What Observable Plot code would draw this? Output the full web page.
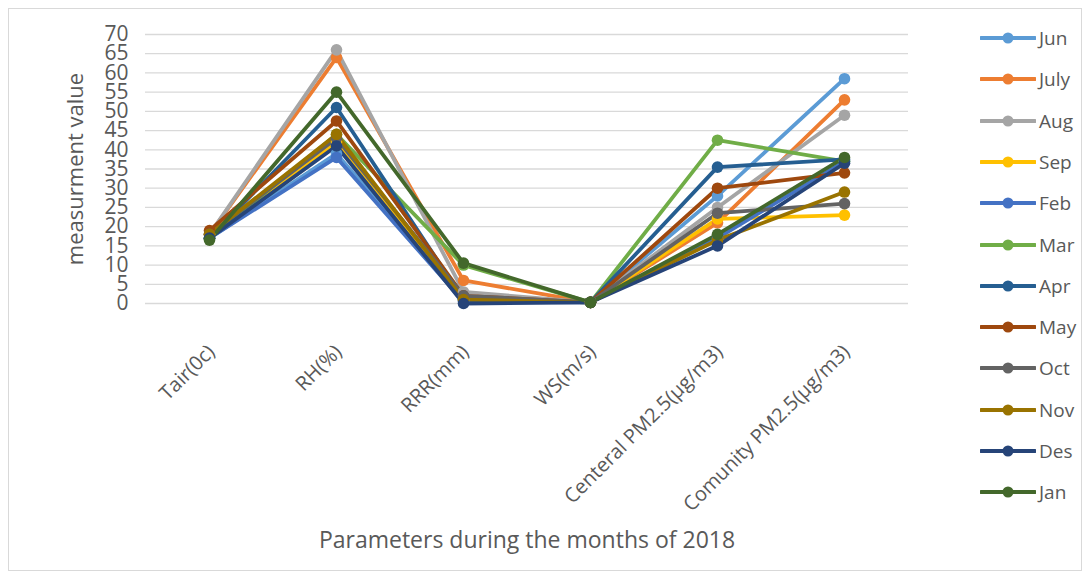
<!DOCTYPE html>
<html>
<head>
<meta charset="utf-8">
<script src="https://cdn.jsdelivr.net/npm/d3@7"></script>
<script src="https://cdn.jsdelivr.net/npm/@observablehq/plot@0.6"></script>
<style>
  body { margin: 0; background: #fff; font-family: "Open Sans", sans-serif; }
  #wrap { position: relative; width: 1089px; height: 579px; overflow: hidden; }
  #frame { position: absolute; left: 8px; top: 8px; width: 1072px; height: 561px; border: 1px solid #d9d9d9; }
  #chart { position: absolute; left: 0; top: 0; }
  #legend { position: absolute; left: 980px; top: 0; }
  .item { position: absolute; left: 0; height: 22px; display: flex; align-items: center; white-space: nowrap; font-size: 19px; color: #595959; }
  .item span { margin-left: 3px; }
</style>
</head>
<body>
<div id="wrap">
  <div id="frame"></div>
  <div id="chart"></div>
  <div id="legend"></div>
</div>
<script>
const params = ["Tair(0c)", "RH(%)", "RRR(mm)", "WS(m/s)", "Centeral PM2.5(µg/m3)", "Comunity PM2.5(µg/m3)"];
const months = ["Jun", "July", "Aug", "Sep", "Feb", "Mar", "Apr", "May", "Oct", "Nov", "Des", "Jan"];
const colors = ["#5B9BD5", "#ED7D31", "#A5A5A5", "#FFC000", "#4472C4", "#70AD47", "#255E91", "#9E480E", "#636363", "#997300", "#264478", "#43682B"];
const yTicks = [0, 5, 10, 15, 20, 25, 30, 35, 40, 45, 50, 55, 60, 65, 70];

const Jun  = [17, 39, 1, 0.3, 28, 58.5];
const July = [18, 64, 6, 0.3, 21, 53];
const Aug  = [18, 66, 3, 0.3, 25, 49];
const Sep  = [17, 42, 1, 0.3, 22, 23];
const Feb  = [17, 38, 0.5, 0.3, 17, 37];
const Mar  = [17, 44, 10, 0.3, 42.5, 37];
const Apr  = [17, 51, 1, 0.3, 35.5, 37.5];
const May  = [19, 47.5, 2, 0.3, 30, 34];
const Oct  = [18, 43, 2, 0.3, 23.5, 26];
const Nov  = [18, 44, 1, 0.3, 16.5, 29];
const Des  = [17, 41, 0, 0.3, 15, 36.5];
const Jan  = [16.5, 55, 10.5, 0.3, 18, 38];
const series = [Jun, July, Aug, Sep, Feb, Mar, Apr, May, Oct, Nov, Des, Jan];

const rows = [];
months.forEach((m, i) => params.forEach((p, j) => rows.push({month: m, param: p, value: series[i][j]})));

const chart = Plot.plot({
  width: 960,
  height: 579,
  marginLeft: 145,
  marginRight: 52,
  marginTop: 34,
  marginBottom: 276,
  style: {fontFamily: "Open Sans, sans-serif", fontSize: "16px", color: "#595959", background: "transparent", overflow: "visible"},
  x: {type: "point", domain: params, padding: 0.5, axis: null},
  y: {domain: [0, 70], axis: null},
  color: {domain: months, range: colors},
  marks: [
    Plot.ruleY(yTicks, {stroke: "#d9d9d9", strokeWidth: 1.3}),
    Plot.text(yTicks, {frameAnchor: "left", y: d => d, text: d => String(d), textAnchor: "end", dx: -17, fontSize: 21, fill: "#595959"}),
    Plot.text(["measurment value"], {frameAnchor: "left", rotate: -90, textAnchor: "middle", dx: -70, fontSize: 22, fill: "#595959"}),
    Plot.line(rows, {x: "param", y: "value", z: "month", stroke: "month", strokeWidth: 3.8, strokeLinejoin: "round"}),
    Plot.dot(rows, {x: "param", y: "value", fill: "month", r: 5.8}),
    Plot.text(params, {x: d => d, y: 0, text: d => d, rotate: -45, textAnchor: "end", dx: 2, dy: 45, fontSize: 20, fill: "#595959"}),
    Plot.text(["Parameters during the months of 2018"], {frameAnchor: "bottom", textAnchor: "middle", dy: 244, fontSize: 23, fill: "#595959"})
  ]
});
document.getElementById("chart").appendChild(chart);

const legend = d3.select("#legend");
months.forEach((m, i) => {
  const item = legend.append("div").attr("class", "item").style("top", (27 + i * 41.3) + "px");
  const svg = item.append("svg").attr("width", 56).attr("height", 22);
  svg.append("line").attr("x1", 1).attr("x2", 55).attr("y1", 11).attr("y2", 11).attr("stroke", colors[i]).attr("stroke-width", 3.8).attr("stroke-linecap", "round");
  svg.append("circle").attr("cx", 28).attr("cy", 11).attr("r", 5.5).attr("fill", colors[i]);
  item.append("span").text(m);
});
</script>
</body>
</html>
